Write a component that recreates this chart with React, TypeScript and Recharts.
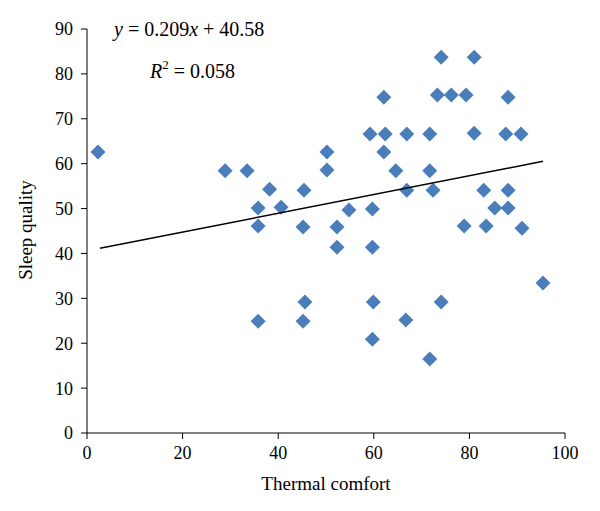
import React from 'react';
import { ScatterChart, Scatter, XAxis, YAxis, Customized } from 'recharts';

const comfort = [2.3, 28.9, 33.5, 38.2, 45.4, 35.8, 40.6, 50.2, 50.2, 35.8, 45.2, 52.3, 52.3, 45.6, 45.2, 35.8,
  74.1, 81.0, 62.1, 73.3, 76.2, 79.3, 88.1, 59.2, 62.4, 66.9, 71.7, 81.0, 87.6, 90.8, 62.1, 64.6, 71.7,
  66.9, 72.4, 83.0, 88.1, 54.8, 59.7, 85.3, 88.1, 59.7, 78.9, 83.5, 91.0, 95.4, 59.9, 74.1, 66.7, 59.7, 71.7];
const sleep = [62.6, 58.4, 58.4, 54.3, 54.1, 50.1, 50.3, 58.6, 62.6, 46.1, 45.9, 45.9, 41.4, 29.2, 24.9, 24.9,
  83.7, 83.7, 74.8, 75.3, 75.3, 75.3, 74.8, 66.6, 66.6, 66.6, 66.6, 66.8, 66.6, 66.6, 62.6, 58.4, 58.4,
  54.1, 54.1, 54.1, 54.1, 49.7, 49.9, 50.1, 50.1, 41.4, 46.1, 46.1, 45.6, 33.4, 29.2, 29.2, 25.2, 20.9, 16.5];
const slope = 0.209;
const intercept = 40.58;
const trendX = [2.7, 95.4];
const xTicks = [0, 20, 40, 60, 80, 100];
const yTicks = [0, 10, 20, 30, 40, 50, 60, 70, 80, 90];

const points = comfort.map((x, i) => ({ x, y: sleep[i] }));
const trend = trendX.map((x) => ({ x, y: slope * x + intercept }));

const FONT = '"Liberation Serif", "DejaVu Serif", serif';

const Diamond = (props: any) => {
  const { cx, cy } = props;
  if (cx == null || cy == null) return null;
  const r = 7.5;
  return (
    <polygon
      points={`${cx},${cy - r} ${cx + r},${cy} ${cx},${cy + r} ${cx - r},${cy}`}
      fill="#4a7ebb"
    />
  );
};

const Texts = () => (
  <g fontFamily={FONT} fill="#000">
    <text x={106} y={28} fontSize={20}>
      <tspan fontStyle="italic">y</tspan> = 0.209<tspan fontStyle="italic">x</tspan> + 40.58
    </text>
    <text x={142} y={70} fontSize={20}>
      <tspan fontStyle="italic">R</tspan>
      <tspan fontSize={13} dy={-9}>2</tspan>
      <tspan dy={9}> = 0.058</tspan>
    </text>
    <text x={318} y={482} fontSize={19} textAnchor="middle">Thermal comfort</text>
    <text transform="translate(24,222) rotate(-90)" fontSize={19} textAnchor="middle">Sleep quality</text>
  </g>
);

export default function App() {
  const tickStyle = { fontFamily: FONT, fontSize: 18, fill: '#000' };
  return (
    <div style={{ width: 592, height: 503 }}>
      <ScatterChart width={592} height={503} margin={{ top: 21, right: 35, bottom: 38, left: 19 }}>
        <XAxis
          type="number"
          dataKey="x"
          domain={[0, 100]}
          ticks={xTicks}
          height={40}
          tickSize={6}
          tickMargin={7}
          stroke="#000"
          tick={tickStyle}
          tickLine={{ stroke: '#000' }}
          axisLine={{ stroke: '#000' }}
        />
        <YAxis
          type="number"
          dataKey="y"
          domain={[0, 90]}
          ticks={yTicks}
          width={60}
          tickSize={6}
          tickMargin={8}
          stroke="#000"
          tick={tickStyle}
          tickLine={{ stroke: '#000' }}
          axisLine={{ stroke: '#000' }}
        />
        <Scatter data={points} shape={<Diamond />} isAnimationActive={false} />
        <Scatter
          data={trend}
          line={{ stroke: '#000', strokeWidth: 1.5 }}
          shape={() => null}
          isAnimationActive={false}
        />
        <Customized component={Texts} />
      </ScatterChart>
    </div>
  );
}
